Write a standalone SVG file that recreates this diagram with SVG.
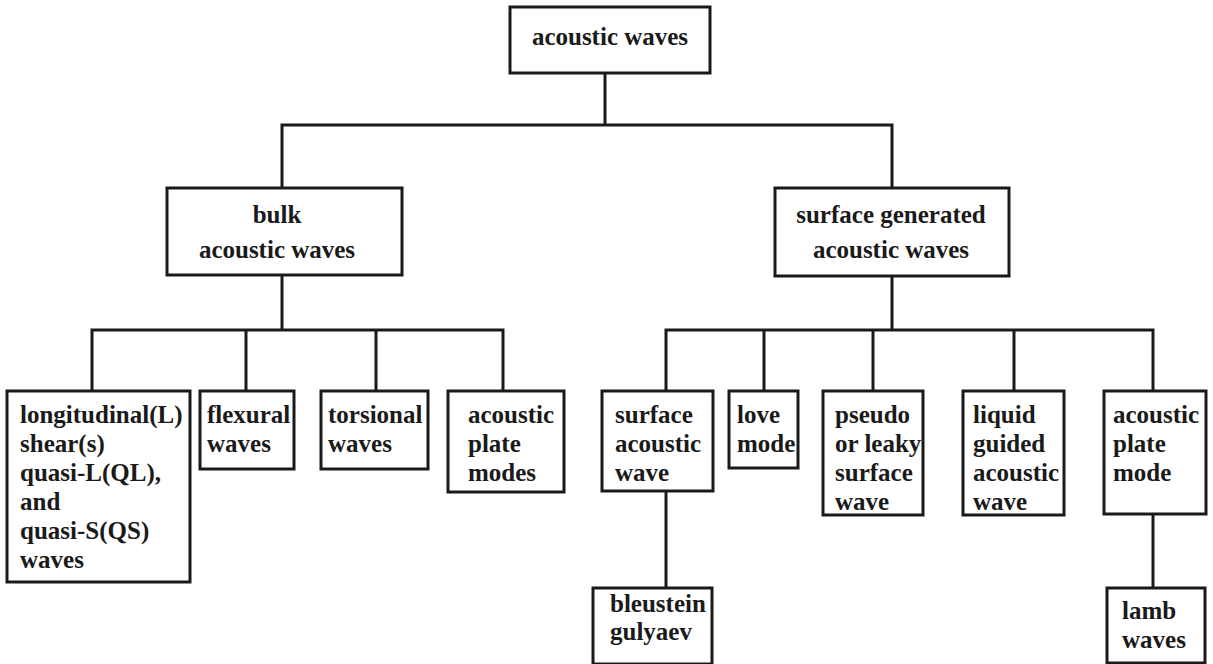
<svg xmlns="http://www.w3.org/2000/svg" width="1213" height="664" viewBox="0 0 1213 664">
<style>
.box{fill:#fff;stroke:#1a1a1a;stroke-width:3}
.ln{fill:none;stroke:#1a1a1a;stroke-width:3;stroke-linecap:square}
text{font-family:"Liberation Serif","Times New Roman",serif;font-weight:bold;font-size:25px;fill:#1a1a1a}
.c{text-anchor:middle}
</style>
<rect width="1213" height="664" fill="#fff"/>
<g id="connectors">
<path class="ln" d="M605,73V125M282,125H892M282,125V188M892,125V188"/>
<path class="ln" d="M282,275V330M92,330H503M92,330V391M246,330V391M376,330V391M503,330V391"/>
<path class="ln" d="M892,276V330M666,330H1153M666,330V391M764,330V391M873,330V391M1014,330V391M1153,330V391"/>
<path class="ln" d="M666,491V588M1153,514V588"/>
</g>
<g id="root"><rect class="box" x="510" y="7" width="200" height="66"/><text class="c" x="610" y="45">acoustic waves</text></g>
<g id="bulk"><rect class="box" x="167" y="188" width="235" height="87"/><text class="c" x="277" y="223">bulk</text><text class="c" x="277" y="258">acoustic waves</text></g>
<g id="surface-generated"><rect class="box" x="775" y="188" width="234" height="88"/><text class="c" x="891" y="223">surface generated</text><text class="c" x="891" y="258">acoustic waves</text></g>
<g id="longitudinal"><rect class="box" x="7" y="391" width="183" height="191"/>
<text x="20" y="423">longitudinal(L)</text><text x="20" y="452">shear(s)</text><text x="20" y="481">quasi-L(QL),</text><text x="20" y="510">and</text><text x="20" y="539">quasi-S(QS)</text><text x="20" y="568">waves</text></g>
<g id="flexural"><rect class="box" x="200" y="391" width="94" height="78"/><text x="207" y="423">flexural</text><text x="207" y="452">waves</text></g>
<g id="torsional"><rect class="box" x="321" y="391" width="107" height="78"/><text x="328" y="423">torsional</text><text x="328" y="452">waves</text></g>
<g id="plate-modes"><rect class="box" x="448" y="391" width="116" height="101"/><text x="468" y="423">acoustic</text><text x="468" y="452">plate</text><text x="468" y="481">modes</text></g>
<g id="saw"><rect class="box" x="602" y="391" width="111" height="100"/><text x="615" y="423">surface</text><text x="615" y="452">acoustic</text><text x="615" y="481">wave</text></g>
<g id="love"><rect class="box" x="729" y="391" width="69" height="77"/><text x="737" y="423">love</text><text x="737" y="452">mode</text></g>
<g id="pseudo"><rect class="box" x="823" y="391" width="100" height="124"/><text x="835" y="423">pseudo</text><text x="835" y="452">or leaky</text><text x="835" y="481">surface</text><text x="835" y="510">wave</text></g>
<g id="liquid"><rect class="box" x="963" y="391" width="101" height="124"/><text x="973" y="423">liquid</text><text x="973" y="452">guided</text><text x="973" y="481">acoustic</text><text x="973" y="510">wave</text></g>
<g id="plate-mode"><rect class="box" x="1104" y="391" width="102" height="123"/><text x="1113" y="423">acoustic</text><text x="1113" y="452">plate</text><text x="1113" y="481">mode</text></g>
<g id="bleustein"><rect class="box" x="593" y="588" width="119" height="76"/><text x="610" y="612">bleustein</text><text x="610" y="640">gulyaev</text></g>
<g id="lamb"><rect class="box" x="1107" y="588" width="98" height="75"/><text x="1122" y="619">lamb</text><text x="1122" y="648">waves</text></g>
</svg>
